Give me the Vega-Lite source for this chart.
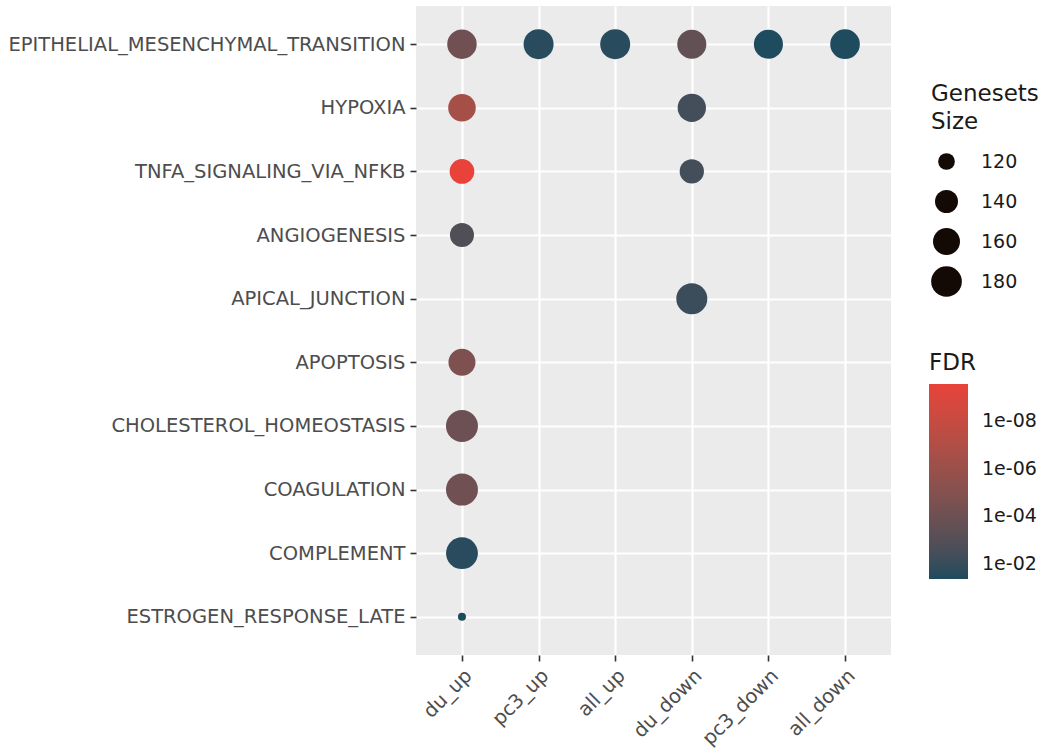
{
  "$schema": "https://vega.github.io/schema/vega-lite/v6.json",
  "width": 475,
  "height": 649,
  "padding": {"left": 7, "top": 6, "right": 0, "bottom": 0},
  "autosize": {"type": "pad"},
  "background": "white",
  "config": {
    "view": {"fill": "#EBEBEB", "stroke": null},
    "axis": {
      "domain": false,
      "grid": true,
      "gridColor": "white",
      "gridWidth": 2.2,
      "tickColor": "#333333",
      "tickSize": 6,
      "tickWidth": 1.6,
      "labelColor": "#4D4D4D",
      "labelFont": "DejaVu Sans",
      "labelFontSize": 19.5,
      "labelPadding": 5,
      "labelLimit": 0,
      "title": null
    },
    "legend": {
      "titleFont": "DejaVu Sans",
      "titleFontSize": 23,
      "titleFontWeight": "normal",
      "titleColor": "#1a1a1a",
      "labelFont": "DejaVu Sans",
      "labelFontSize": 19,
      "labelColor": "#1a1a1a"
    }
  },
  "data": {
    "values": [
      {"pathway": "EPITHELIAL_MESENCHYMAL_TRANSITION", "group": "du_up", "size": 173, "FDR": 8e-5},
      {"pathway": "EPITHELIAL_MESENCHYMAL_TRANSITION", "group": "pc3_up", "size": 176, "FDR": 0.025},
      {"pathway": "EPITHELIAL_MESENCHYMAL_TRANSITION", "group": "all_up", "size": 176, "FDR": 0.025},
      {"pathway": "EPITHELIAL_MESENCHYMAL_TRANSITION", "group": "du_down", "size": 171, "FDR": 3e-4},
      {"pathway": "EPITHELIAL_MESENCHYMAL_TRANSITION", "group": "pc3_down", "size": 171, "FDR": 0.04},
      {"pathway": "EPITHELIAL_MESENCHYMAL_TRANSITION", "group": "all_down", "size": 174, "FDR": 0.04},
      {"pathway": "HYPOXIA", "group": "du_up", "size": 163, "FDR": 3e-7},
      {"pathway": "HYPOXIA", "group": "du_down", "size": 167, "FDR": 4e-3},
      {"pathway": "TNFA_SIGNALING_VIA_NFKB", "group": "du_up", "size": 148, "FDR": 2.8e-10},
      {"pathway": "TNFA_SIGNALING_VIA_NFKB", "group": "du_down", "size": 146, "FDR": 4e-3},
      {"pathway": "ANGIOGENESIS", "group": "du_up", "size": 145, "FDR": 1.5e-3},
      {"pathway": "APICAL_JUNCTION", "group": "du_down", "size": 182, "FDR": 8e-3},
      {"pathway": "APOPTOSIS", "group": "du_up", "size": 160, "FDR": 2e-5},
      {"pathway": "CHOLESTEROL_HOMEOSTASIS", "group": "du_up", "size": 188, "FDR": 1e-4},
      {"pathway": "COAGULATION", "group": "du_up", "size": 188, "FDR": 8e-5},
      {"pathway": "COMPLEMENT", "group": "du_up", "size": 187, "FDR": 0.025},
      {"pathway": "ESTROGEN_RESPONSE_LATE", "group": "du_up", "size": 108, "FDR": 0.043}
    ]
  },
  "mark": {"type": "circle", "opacity": 1},
  "encoding": {
    "x": {
      "field": "group",
      "type": "nominal",
      "scale": {"type": "point", "domain": ["du_up", "pc3_up", "all_up", "du_down", "pc3_down", "all_down"], "padding": 0.6},
      "axis": {"labelAngle": -45, "labelAlign": "right", "labelBaseline": "top"}
    },
    "y": {
      "field": "pathway",
      "type": "nominal",
      "scale": {"type": "point", "domain": ["EPITHELIAL_MESENCHYMAL_TRANSITION", "HYPOXIA", "TNFA_SIGNALING_VIA_NFKB", "ANGIOGENESIS", "APICAL_JUNCTION", "APOPTOSIS", "CHOLESTEROL_HOMEOSTASIS", "COAGULATION", "COMPLEMENT", "ESTROGEN_RESPONSE_LATE"], "padding": 0.6}
    },
    "size": {
      "field": "size",
      "type": "quantitative",
      "scale": {"domain": [107, 120, 140, 160, 180, 188], "range": [46, 279, 529, 729, 942, 1024]},
      "legend": {
        "title": ["Genesets", "Size"],
        "values": [120, 140, 160, 180],
        "orient": "none",
        "legendX": 515,
        "legendY": 77,
        "titleLineHeight": 28,
        "titlePadding": 12,
        "symbolFillColor": "#140a05",
        "symbolStrokeWidth": 0,
        "symbolType": "circle",
        "labelOffset": 19,
        "clipHeight": 31,
        "rowPadding": 9
      }
    },
    "color": {
      "field": "FDR",
      "type": "quantitative",
      "scale": {"type": "log", "domain": [0.043, 2.8e-10], "range": ["#1d4b5e", "#e8423a"], "interpolate": "lab"},
      "legend": {
        "title": "FDR",
        "orient": "none",
        "legendX": 513,
        "legendY": 346,
        "titlePadding": 9,
        "gradientLength": 195,
        "gradientThickness": 39,
        "gradientStrokeWidth": 0,
        "values": [1e-8, 1e-6, 1e-4, 1e-2],
        "labelExpr": "replace(format(datum.value, '.0e'), 'e-', 'e-0')",
        "labelOffset": 14
      }
    }
  }
}
